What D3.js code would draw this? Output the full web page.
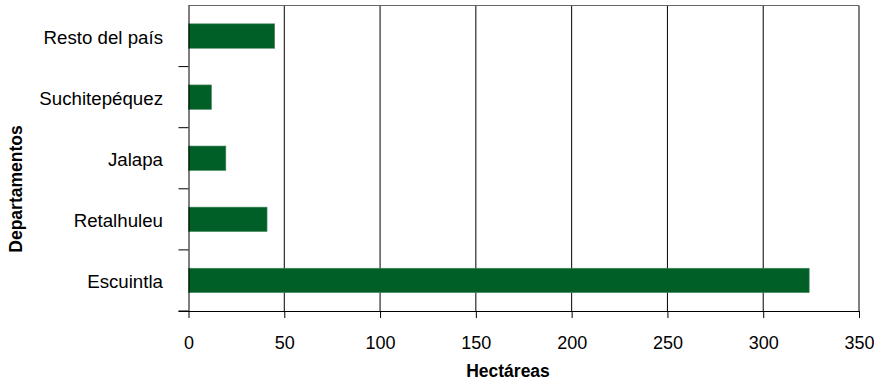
<!DOCTYPE html>
<html><head><meta charset="utf-8">
<script src="https://cdn.jsdelivr.net/npm/d3@7"></script>
<style>body{margin:0;background:#fff}svg{display:block}text{font-family:"Liberation Sans",Arial,sans-serif}</style>
</head><body><svg id="c" width="874" height="383"></svg>
<script>
const categories = ["Escuintla","Retalhuleu","Jalapa","Suchitepéquez","Resto del país"];
const values = [324, 41, 19.5, 12, 45];
const xTicks = [0,50,100,150,200,250,300,350];
const xTitle = "Hectáreas";
const yTitle = "Departamentos";

const svg = d3.select("#c");
const L = 188.5, R = 859, T = 5.5, B = 311;
const x = d3.scaleLinear().domain([0,350]).range([L,R]);
const y = d3.scaleBand().domain(categories).range([B,T]).paddingInner(0.6).paddingOuter(0.3);
const yb = d3.scaleBand().domain(categories).range([B,T]);

svg.append("g").selectAll("line").data(xTicks.slice(1)).join("line")
  .attr("x1",d=>x(d)).attr("x2",d=>x(d)).attr("y1",T).attr("y2",B)
  .attr("stroke","#000").attr("stroke-width",1);
svg.append("line").attr("x1",L).attr("x2",R).attr("y1",T).attr("y2",T).attr("stroke","#666").attr("stroke-width",1);

svg.append("g").selectAll("rect").data(categories).join("rect")
  .attr("x",x(0)).attr("y",d=>y(d)).attr("width",(d,i)=>x(values[i])-x(0)).attr("height",y.bandwidth())
  .attr("fill","#005F27").attr("stroke","#4d8c62").attr("stroke-width",0.6);

const xa = svg.append("g").attr("transform",`translate(0,${B})`)
  .call(d3.axisBottom(x).tickValues(xTicks).tickSize(7).tickSizeOuter(0).tickFormat(d3.format("d")));
xa.select(".domain").attr("stroke","#000").attr("d",`M${L-10},0.5H${R}`);
xa.selectAll(".tick line").attr("stroke","#000");
xa.selectAll("text").attr("font-size",18).attr("fill","#000").attr("y",38).attr("dy",null);

const ya = svg.append("g").attr("transform",`translate(${L},0)`)
  .call(d3.axisLeft(yb).tickSize(0).tickPadding(25.5));
ya.select(".domain").attr("stroke","#000").attr("d",`M0.5,${T}V${B}`);
ya.selectAll("text").attr("font-size",18.7).attr("fill","#000").attr("dy","0.4em");
const bounds = categories.map(c=>yb(c)).concat([B]);
svg.append("g").selectAll("line").data(bounds.filter(v=>v>T+1)).join("line")
  .attr("x1",L-10).attr("x2",L).attr("y1",d=>d).attr("y2",d=>d).attr("stroke","#000");

svg.append("text").attr("x",508).attr("y",377).attr("text-anchor","middle")
  .attr("font-size",17.5).attr("font-weight","bold").text(xTitle);
svg.append("text").attr("transform",`translate(22,189) rotate(-90)`).attr("text-anchor","middle")
  .attr("font-size",17.5).attr("font-weight","bold").text(yTitle);
</script></body></html>
